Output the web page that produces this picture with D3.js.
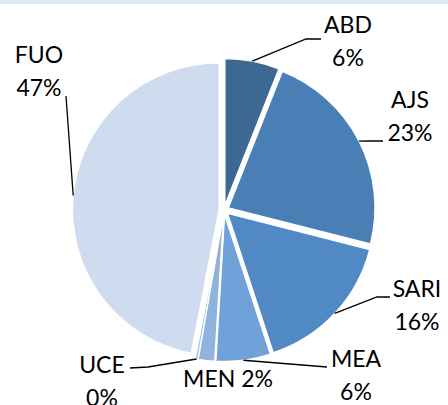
<!DOCTYPE html>
<html>
    <head>
        <title>Pie</title>
        <script src="https://d3js.org/d3.v7.min.js"></script>
        <style>
            body { margin: 0; background: #fff; }
            svg { display: block; width: 448px; height: 405px; }
            .lbl { font-family: Lato, 'Open Sans', sans-serif; font-size: 23px; fill: #000; }
        </style>
    </head>
    <body>
        <svg></svg>
    </body>
    <script>
        // data, clockwise from 12 o'clock
        let categories = ['ABD', 'AJS', 'SARI', 'MEA', 'MEN', 'UCE', 'FUO'];
        let values = [6, 23, 16, 6, 1.8, 0.3, 47];
        let colors = ['#3d6892', '#4a7fb6', '#5089c4', '#6ea2d8', '#90b3de', '#a9c4e6', '#cfdbee'];

        // label layout: text centre x, first baseline, leader path points after the arc point
        let layout = {
            ABD:  {x: 348, y: 33,  two: true, leader: [[306, 39], [321, 39]]},
            AJS:  {x: 410, y: 108, two: true, leader: [[370, 141], [383, 141]]},
            SARI: {x: 417, y: 297, two: true, leader: [[377, 297], [390, 297]]},
            MEA:  {x: 356, y: 367, two: true, leader: [[327, 367]]},
            MEN:  {x: 228, y: 387, two: false, leader: null},
            UCE:  {x: 102, y: 373, two: true, leader: [[148, 367], [130, 368]]},
            FUO:  {x: 39,  y: 63,  two: true, leader: [[66, 96]]}
        };

        let svg = d3.select('svg');
        let cx = 224, cy = 210, r = 146.5, explode = 5;

        // thin header band at the top
        svg.append('rect')
            .attr('x', 0).attr('y', 0)
            .attr('width', 448).attr('height', 4)
            .attr('fill', '#dde8f4');

        let total = d3.sum(values);
        let data = categories.map((c, i) => ({name: c, value: values[i], color: colors[i]}));

        let pie = d3.pie().sort(null).value(d => d.value);
        let arc = d3.arc().innerRadius(0).outerRadius(r);
        let arcs = pie(data);

        let g = svg.append('g').attr('transform', `translate(${cx}, ${cy})`);

        let off = d => {
            let m = (d.startAngle + d.endAngle) / 2;
            return [explode * Math.sin(m), -explode * Math.cos(m)];
        };

        g.selectAll('path.slice')
            .data(arcs)
            .join('path')
            .attr('class', 'slice')
            .attr('transform', d => `translate(${off(d)[0]}, ${off(d)[1]})`)
            .attr('d', arc)
            .attr('fill', d => d.data.color)
            .attr('stroke', '#fff')
            .attr('stroke-width', 1.2);

        // leader lines
        let line = d3.line();
        arcs.forEach(d => {
            let lay = layout[d.data.name];
            if (!lay.leader) return;
            let m = (d.startAngle + d.endAngle) / 2;
            let o = off(d);
            let p0 = [cx + o[0] + r * Math.sin(m), cy + o[1] - r * Math.cos(m)];
            svg.append('path')
                .attr('d', line([p0].concat(lay.leader)))
                .attr('fill', 'none')
                .attr('stroke', '#000')
                .attr('stroke-width', 1.3);
        });

        // labels
        arcs.forEach(d => {
            let lay = layout[d.data.name];
            let pct = Math.round(d.data.value / total * 100) + '%';
            let t = svg.append('text')
                .attr('class', 'lbl')
                .attr('text-anchor', 'middle')
                .attr('x', lay.x)
                .attr('y', lay.y);
            if (lay.two) {
                t.append('tspan').attr('x', lay.x).text(d.data.name);
                t.append('tspan').attr('x', lay.x).attr('dy', 33).text(pct);
            } else {
                t.text(d.data.name + ' ' + pct);
            }
        });
    </script>
</html>
